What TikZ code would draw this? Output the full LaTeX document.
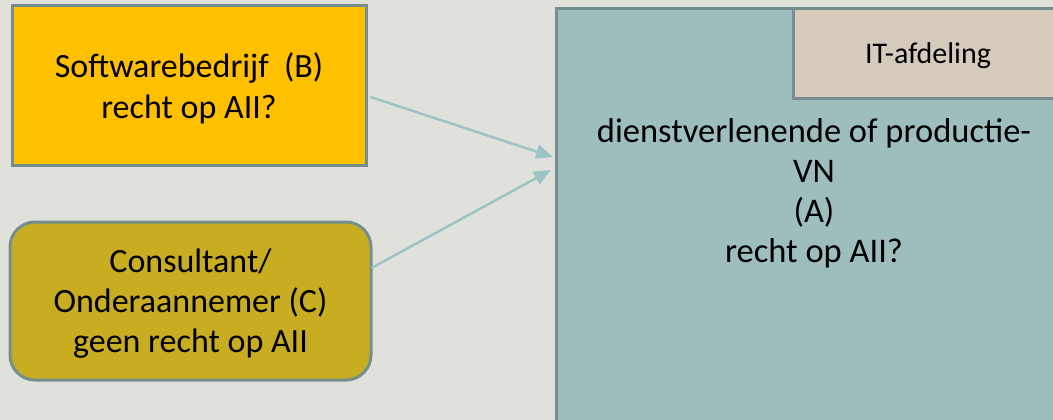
\documentclass[tikz,border=0pt]{standalone}
\usepackage{fontspec}
\setmainfont{Carlito}
\usetikzlibrary{arrows.meta}
\definecolor{bgc}{HTML}{E0E1DB}
\definecolor{orangec}{HTML}{FFC000}
\definecolor{olivec}{HTML}{C9AD21}
\definecolor{borderc}{HTML}{758F8F}
\definecolor{tealc}{HTML}{9DBEBD}
\definecolor{itc}{HTML}{D4CBBD}
\definecolor{arrowc}{HTML}{9CC4C4}
\tikzset{
  box/.style={draw=borderc, line width=3pt, inner sep=0pt, align=center},
  bigtext/.style={font=\fontsize{34}{41}\selectfont},
  midtext/.style={font=\fontsize{34}{40}\selectfont},
  arr/.style={draw=arrowc, line width=2.5pt, -{Triangle[length=17pt,width=14pt]}},
}
\begin{document}
\begin{tikzpicture}[x=1pt,y=-1pt]
\useasboundingbox (0,0) rectangle (1053,420);
\fill[bgc] (0,0) rectangle (1053,420);
\begin{scope}
\clip (0,0) rectangle (1053,420);
\node[box, fill=tealc, minimum width=512pt, minimum height=430pt, anchor=north west] (A) at (555,7) {};
\node[box, fill=itc, minimum width=274pt, minimum height=90pt, anchor=north west] (IT) at (792,7) {};
\end{scope}
\node[font=\fontsize{30}{36}\selectfont, anchor=base] (ITt) at (928,64) {IT-afdeling};
\node[align=center, font=\fontsize{34.5}{40}\selectfont, anchor=base] (At) at (814,262) {dienstverlenende of productie-\\VN\\(A)\\recht op AII?};
\node[box, fill=orangec, minimum width=354pt, minimum height=159pt] (B) at (189,85.5) {};
\node[bigtext, align=center, anchor=base] (Bt) at (189,118) {Softwarebedrijf~~(B)\\recht op AII?};
\node[box, fill=olivec, rounded corners=25pt, minimum width=361pt, minimum height=158pt] (C) at (190.5,301) {};
\node[midtext, align=center, anchor=base] (Ct) at (190.5,352) {Consultant/\\Onderaannemer (C)\\geen recht op AII};
\coordinate (a1) at (553,157);
\coordinate (a2) at (551,170);
\draw[arr] ([shift={(3,11.5)}]B.east) -- (a1);
\draw[arr] ([shift={(-1,-33)}]C.east) -- (a2);
\end{tikzpicture}
\end{document}
